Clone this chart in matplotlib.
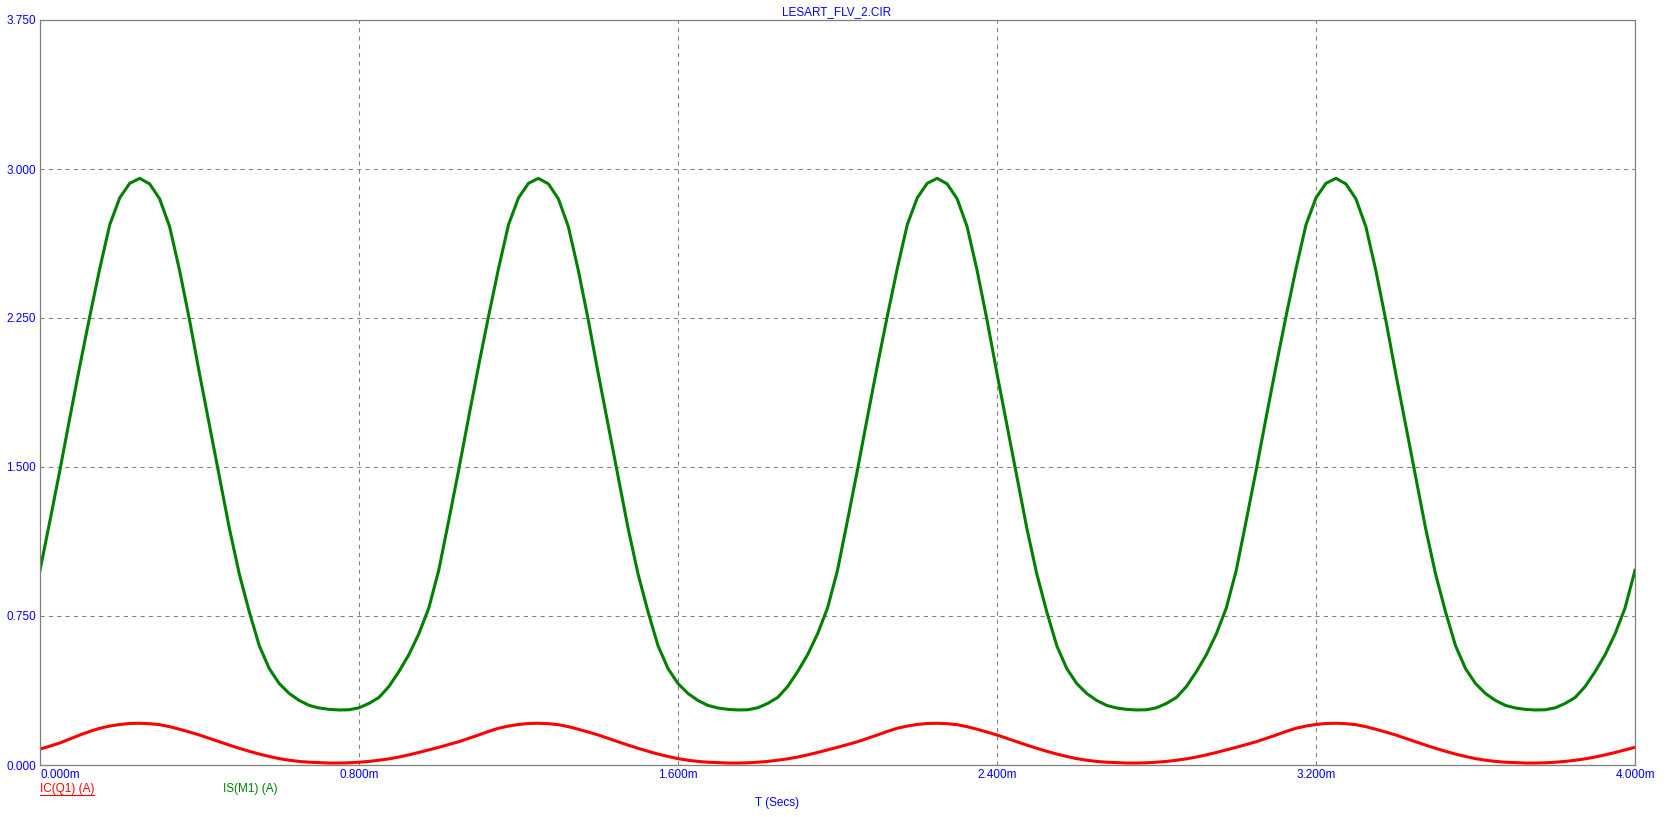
import numpy as np
import matplotlib
matplotlib.use("Agg")
import matplotlib.pyplot as plt
from matplotlib.lines import Line2D

plt.rcParams['font.family'] = ['Liberation Sans', 'DejaVu Sans']

# time in ms (plotted against a 0..4 ms axis), 0.025 ms steps
t_ms = np.linspace(0.0, 4.0, 161)

# IS(M1) (A), one row per cycle
is_m1 = [
    0.98, 1.23, 1.485, 1.75, 2.01, 2.26, 2.50, 2.72, 2.855, 2.928,
    2.953, 2.925, 2.85, 2.71, 2.49, 2.24, 1.97, 1.71, 1.45, 1.19,
    0.96, 0.77, 0.60, 0.485, 0.41, 0.36, 0.325, 0.30, 0.287, 0.28,
    0.277, 0.278, 0.288, 0.31, 0.34, 0.395, 0.47, 0.555, 0.66, 0.79,
    0.98, 1.23, 1.485, 1.75, 2.01, 2.26, 2.50, 2.72, 2.855, 2.928,
    2.953, 2.925, 2.85, 2.71, 2.49, 2.24, 1.97, 1.71, 1.45, 1.19,
    0.96, 0.77, 0.60, 0.485, 0.41, 0.36, 0.325, 0.30, 0.287, 0.28,
    0.277, 0.278, 0.288, 0.31, 0.34, 0.395, 0.47, 0.555, 0.66, 0.79,
    0.98, 1.23, 1.485, 1.75, 2.01, 2.26, 2.50, 2.72, 2.855, 2.928,
    2.953, 2.925, 2.85, 2.71, 2.49, 2.24, 1.97, 1.71, 1.45, 1.19,
    0.96, 0.77, 0.60, 0.485, 0.41, 0.36, 0.325, 0.30, 0.287, 0.28,
    0.277, 0.278, 0.288, 0.31, 0.34, 0.395, 0.47, 0.555, 0.66, 0.79,
    0.98, 1.23, 1.485, 1.75, 2.01, 2.26, 2.50, 2.72, 2.855, 2.928,
    2.953, 2.925, 2.85, 2.71, 2.49, 2.24, 1.97, 1.71, 1.45, 1.19,
    0.96, 0.77, 0.60, 0.485, 0.41, 0.36, 0.325, 0.30, 0.287, 0.28,
    0.277, 0.278, 0.288, 0.31, 0.34, 0.395, 0.47, 0.555, 0.66, 0.79,
    0.98,
]

# IC(Q1) (A)
ic_q1 = [
    0.080, 0.095, 0.111, 0.131, 0.151, 0.169, 0.185, 0.196, 0.204, 0.209,
    0.210, 0.208, 0.203, 0.193, 0.180, 0.166, 0.151, 0.134, 0.117, 0.100,
    0.084, 0.069, 0.055, 0.043, 0.032, 0.024, 0.018, 0.014, 0.012, 0.010,
    0.010, 0.011, 0.014, 0.018, 0.024, 0.031, 0.040, 0.051, 0.063, 0.076,
    0.089, 0.103, 0.117, 0.134, 0.151, 0.169, 0.185, 0.196, 0.204, 0.209,
    0.210, 0.208, 0.203, 0.193, 0.180, 0.166, 0.151, 0.134, 0.117, 0.100,
    0.084, 0.069, 0.055, 0.043, 0.032, 0.024, 0.018, 0.014, 0.012, 0.010,
    0.010, 0.011, 0.014, 0.018, 0.024, 0.031, 0.040, 0.051, 0.063, 0.076,
    0.089, 0.103, 0.117, 0.134, 0.151, 0.169, 0.185, 0.196, 0.204, 0.209,
    0.210, 0.208, 0.203, 0.193, 0.180, 0.166, 0.151, 0.134, 0.117, 0.100,
    0.084, 0.069, 0.055, 0.043, 0.032, 0.024, 0.018, 0.014, 0.012, 0.010,
    0.010, 0.011, 0.014, 0.018, 0.024, 0.031, 0.040, 0.051, 0.063, 0.076,
    0.089, 0.103, 0.117, 0.134, 0.151, 0.169, 0.185, 0.196, 0.204, 0.209,
    0.210, 0.208, 0.203, 0.193, 0.180, 0.166, 0.151, 0.134, 0.117, 0.100,
    0.084, 0.069, 0.055, 0.043, 0.032, 0.024, 0.018, 0.014, 0.012, 0.010,
    0.010, 0.011, 0.014, 0.018, 0.024, 0.031, 0.040, 0.051, 0.063, 0.076,
    0.089,
]

x_ticks = [0.0, 0.8, 1.6, 2.4, 3.2, 4.0]
x_labels = ['0.000m', '0.800m', '1.600m', '2.400m', '3.200m', '4.000m']
y_ticks = [0.0, 0.75, 1.5, 2.25, 3.0, 3.75]
y_labels = ['0.000', '0.750', '1.500', '2.250', '3.000', '3.750']

W, H = 1667, 817
fig = plt.figure(figsize=(W / 100, H / 100), dpi=100)
ax = fig.add_axes([40 / W, 1 - 765 / H, 1595 / W, 745 / H])

ax.plot(t_ms, ic_q1, color='#ff0000', lw=2.2, solid_joinstyle='round')
ax.plot(t_ms, is_m1, color='#008000', lw=2.2, solid_joinstyle='round')

ax.set_xlim(0, 4.0)
ax.set_ylim(0, 3.75)
ax.set_xticks(x_ticks)
ax.set_xticklabels(x_labels)
ax.set_yticks(y_ticks)
ax.set_yticklabels(y_labels)
ax.tick_params(length=0, labelsize=8.5, labelcolor='#0000ff')
ax.tick_params(axis='x', pad=3)
ax.tick_params(axis='y', pad=3)
ax.get_xticklabels()[0].set_horizontalalignment('left')

ax.grid(True, color='#808080', linestyle=(0, (4, 4)), linewidth=0.75)
for s in ax.spines.values():
    s.set_color('#808080')
    s.set_linewidth(0.9)

fs = 8.5
fig.text(837 / W, 1 - 12 / H, 'LESART_FLV_2.CIR', color='#0000ff', fontsize=fs,
         ha='center', va='center')
fig.text(40 / W, 1 - 789 / H, 'IC(Q1) (A)', color='#ff0000', fontsize=fs,
         ha='left', va='center')
fig.add_artist(Line2D([40 / W, 94 / W], [1 - 795 / H, 1 - 795 / H],
                      color='#ff0000', lw=0.8))
fig.text(223 / W, 1 - 789 / H, 'IS(M1) (A)', color='#008000', fontsize=fs,
         ha='left', va='center')
fig.text(755 / W, 1 - 803 / H, 'T (Secs)', color='#0000ff', fontsize=fs,
         ha='left', va='center')

fig.savefig('out.png', dpi=100)
